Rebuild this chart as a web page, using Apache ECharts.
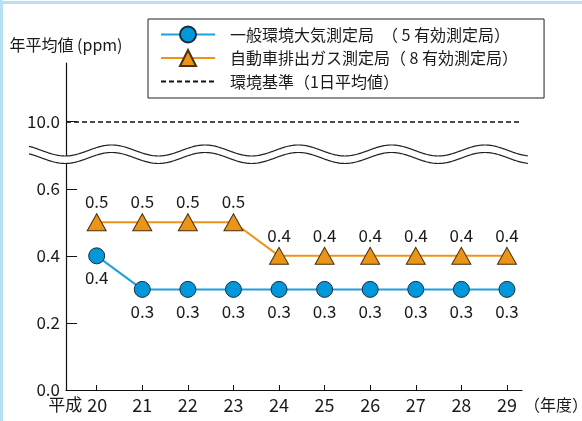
<!DOCTYPE html>
<html>
<head>
<meta charset="utf-8">
<script src="https://cdn.jsdelivr.net/npm/echarts@6/dist/echarts.min.js"></script>
<style>
  body { margin: 0; background: #fff; }
  #main { width: 582px; height: 421px; }
</style>
</head>
<body>
<div id="main"></div>
<script>
// 年度（平成）
var years = [20, 21, 22, 23, 24, 25, 26, 27, 28, 29];
// 一般環境大気測定局
var generalValues = [0.4, 0.3, 0.3, 0.3, 0.3, 0.3, 0.3, 0.3, 0.3, 0.3];
// 自動車排出ガス測定局
var roadsideValues = [0.5, 0.5, 0.5, 0.5, 0.4, 0.4, 0.4, 0.4, 0.4, 0.4];
// y軸の目盛り（下段）と環境基準（上段、波線の上）
var yTicks = [0, 0.2, 0.4, 0.6];
var standardValue = 10.0;
var standardPos = 0.8; // 波線の上で 10.0 を置く位置
var breakPos = 0.7;

var seriesNames = [
  "一般環境大気測定局　（ 5 有効測定局）",
  "自動車排出ガス測定局（ 8 有効測定局）",
  "環境基準（1日平均値）"
];

var font = "'Noto Sans CJK JP', 'Noto Sans', sans-serif";
var txt = "#1a1a1a";

function pairs(vals) {
  var out = [];
  for (var i = 0; i < years.length; i++) {
    out.push([years[i], vals[i]]);
  }
  return out;
}

var myChart = echarts.init(document.getElementById("main"));

var option = {
  animation: false,
  textStyle: { fontFamily: font, color: txt },
  legend: {
    orient: "vertical",
    left: 148,
    top: 19,
    padding: [6, 26, 7, 12],
    itemGap: 4.5,
    itemWidth: 54,
    itemHeight: 20,
    borderColor: "#222",
    borderWidth: 1,
    data: seriesNames,
    textStyle: {
      fontFamily: font,
      fontSize: 16,
      lineHeight: 19,
      color: txt,
      padding: [0, 0, 0, 10]
    }
  },
  grid: {
    left: 66,
    right: 60,
    top: 63,
    bottom: 31,
    outerBoundsMode: "none"
  },
  xAxis: {
    type: "value",
    min: 19.327,
    max: 29.33,
    name: "（年度）",
    nameLocation: "end",
    nameGap: 2,
    nameTextStyle: {
      fontFamily: font,
      fontSize: 16,
      color: txt,
      verticalAlign: "top",
      padding: [7, 0, 0, 0]
    },
    splitLine: { show: false },
    axisLine: { lineStyle: { color: "#111", width: 1.2 } },
    axisTick: {
      inside: true,
      length: 5,
      customValues: years,
      lineStyle: { color: "#111" }
    },
    axisLabel: {
      customValues: years,
      margin: 6,
      fontSize: 18,
      color: txt,
      formatter: function (v) {
        if (v === years[0]) {
          return "{h|平成}{n|" + v + "}";
        }
        return String(v);
      },
      rich: {
        h: { fontSize: 17, fontFamily: font, color: txt },
        n: { fontSize: 18, fontFamily: font, color: txt, padding: [0, 38, 0, 5] }
      }
    }
  },
  yAxis: {
    type: "value",
    min: 0,
    max: 0.975,
    name: "年平均値 (ppm)",
    nameLocation: "end",
    nameGap: 10,
    nameTextStyle: { fontFamily: font, fontSize: 16, color: txt },
    splitLine: { show: false },
    axisLine: { show: true, lineStyle: { color: "#111", width: 1.2 } },
    axisTick: {
      inside: true,
      length: 11,
      customValues: yTicks.concat([standardPos]),
      lineStyle: { color: "#111" }
    },
    axisLabel: {
      customValues: yTicks.concat([standardPos]),
      margin: 6,
      fontSize: 17,
      color: txt,
      formatter: function (v) {
        if (Math.abs(v - standardPos) < 1e-6) {
          return standardValue.toFixed(1);
        }
        return v.toFixed(1);
      }
    }
  },
  series: [
    {
      name: seriesNames[0],
      type: "line",
      data: pairs(generalValues),
      symbol: "circle",
      symbolSize: 16,
      lineStyle: { color: "#1ea0dc", width: 2 },
      itemStyle: { color: "#0097db", borderColor: "#1c2a33", borderWidth: 1 },
      label: {
        show: true,
        position: "bottom",
        distance: 5,
        fontFamily: font,
        fontSize: 17,
        color: txt,
        formatter: function (p) { return p.value[1].toFixed(1); }
      },
      z: 3
    },
    {
      name: seriesNames[1],
      type: "line",
      data: pairs(roadsideValues),
      symbol: "triangle",
      symbolSize: [19, 17],
      lineStyle: { color: "#ee9519", width: 2 },
      itemStyle: { color: "#ea9418", borderColor: "#4a3010", borderWidth: 1 },
      label: {
        show: true,
        position: "top",
        distance: 3,
        fontFamily: font,
        fontSize: 17,
        color: txt,
        formatter: function (p) { return p.value[1].toFixed(1); }
      },
      z: 3
    },
    {
      // 環境基準は波線の上に破線で引く
      name: seriesNames[2],
      type: "line",
      data: [],
      symbol: "none",
      lineStyle: { color: "#111", width: 1.5, type: [5, 3] },
      itemStyle: { color: "rgba(0,0,0,0)", borderWidth: 0 },
      markLine: {
        silent: true,
        symbol: "none",
        label: { show: false },
        lineStyle: { color: "#111", width: 1.5, type: [5, 3] },
        data: [{ yAxis: standardPos }]
      }
    }
  ]
};
myChart.setOption(option);

// 波線（軸の省略）と外枠
var gx0 = myChart.convertToPixel({ xAxisIndex: 0 }, 19.327);
var gx1 = myChart.convertToPixel({ xAxisIndex: 0 }, 29.33);
var cy = myChart.convertToPixel({ yAxisIndex: 0 }, breakPos) - 1;
var waveStart = gx0 - 37, waveEnd = gx1 + 6;
var period = 93.3, amp = 5.5, half = 3.75, crestX = gx0 + 45.7;
var upper = [], lower = [];
for (var x = waveStart; x <= waveEnd + 0.01; x += 1) {
  var d = amp * Math.cos(2 * Math.PI * (x - crestX) / period);
  upper.push([x, cy - half - d]);
  lower.push([x, cy + half - d]);
}
var band = upper.concat(lower.slice().reverse());

myChart.setOption({
  graphic: [
    { type: "polygon", z: 100, shape: { points: band }, style: { fill: "#fff" } },
    { type: "polyline", z: 101, shape: { points: upper }, style: { stroke: "#222", lineWidth: 1.2, fill: null } },
    { type: "polyline", z: 101, shape: { points: lower }, style: { stroke: "#222", lineWidth: 1.2, fill: null } },
    { type: "rect", z: 102, shape: { x: 0, y: 0, width: 3, height: 421 }, style: { fill: "#b5e0f6" } },
    { type: "rect", z: 102, shape: { x: 0, y: 1, width: 582, height: 3 }, style: { fill: "#b5e0f6" } }
  ]
});
</script>
</body>
</html>
